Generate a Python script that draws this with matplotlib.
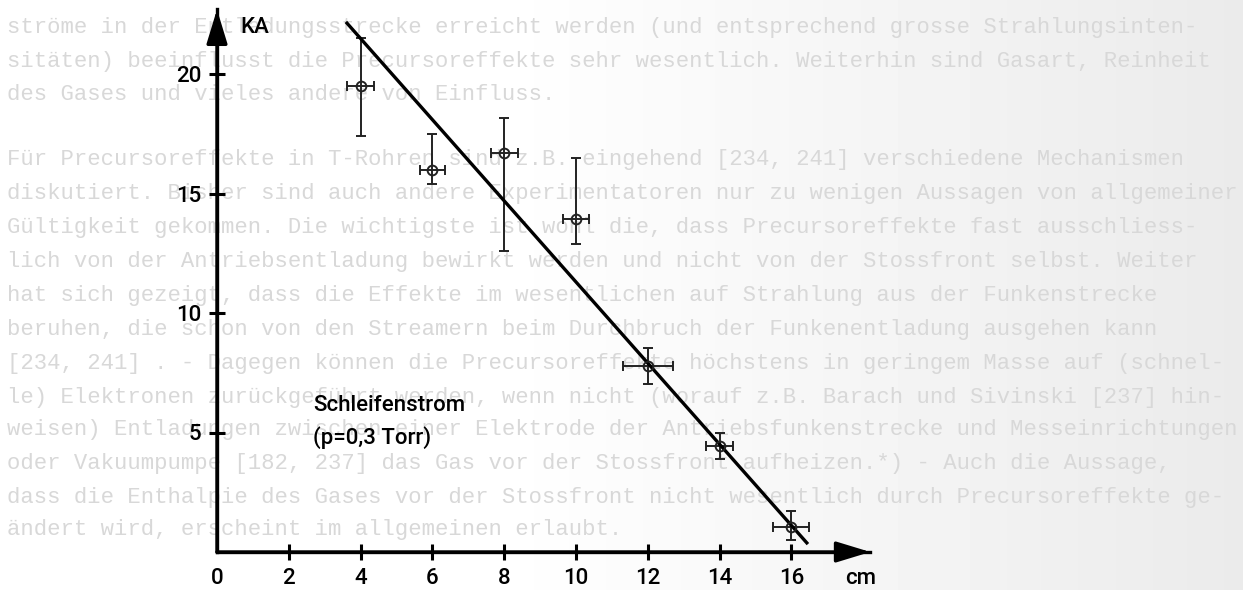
import numpy as np
import matplotlib
matplotlib.use("Agg")
import matplotlib.pyplot as plt

dist_cm = [4, 6, 8, 10, 12, 14, 16]
current_ka = [19.5, 16.0, 16.7, 13.95, 7.8, 4.45, 1.05]
current_hi = [21.5, 17.5, 18.15, 16.5, 8.55, 5.0, 1.7]
current_lo = [17.4, 15.4, 12.6, 12.9, 7.05, 3.9, 0.5]
dist_err = [0.38, 0.35, 0.38, 0.36, 0.7, 0.37, 0.5]

# straight line drawn through the points
fit_x = [3.59, 16.46]
fit_y = [22.18, 0.33]

xticks = [0, 2, 4, 6, 8, 10, 12, 14, 16]
yticks = [5, 10, 15, 20]

# faded page text behind the figure
page_lines = [
    "ströme in der Entladungsstrecke erreicht werden (und entsprechend grosse Strahlungsinten-",
    "sitäten) beeinflusst die Precursoreffekte sehr wesentlich. Weiterhin sind Gasart, Reinheit",
    "des Gases und vieles andere von Einfluss.",
    "",
    "Für Precursoreffekte in T-Rohren sind z.B. eingehend [234, 241] verschiedene Mechanismen",
    "diskutiert. Bisher sind auch andere Experimentatoren nur zu wenigen Aussagen von allgemeiner",
    "Gültigkeit gekommen. Die wichtigste ist wohl die, dass Precursoreffekte fast ausschliess-",
    "lich von der Antriebsentladung bewirkt werden und nicht von der Stossfront selbst. Weiter",
    "hat sich gezeigt, dass die Effekte im wesentlichen auf Strahlung aus der Funkenstrecke",
    "beruhen, die schon von den Streamern beim Durchbruch der Funkenentladung ausgehen kann",
    "[234, 241] . - Dagegen können die Precursoreffekte höchstens in geringem Masse auf (schnel-",
    "le) Elektronen zurückgeführt werden, wenn nicht (worauf z.B. Barach und Sivinski [237] hin-",
    "weisen) Entladungen zwischen einer Elektrode der Antriebsfunkenstrecke und Messeinrichtungen",
    "oder Vakuumpumpe [182, 237] das Gas vor der Stossfront aufheizen.*) - Auch die Aussage,",
    "dass die Enthalpie des Gases vor der Stossfront nicht wesentlich durch Precursoreffekte ge-",
    "ändert wird, erscheint im allgemeinen erlaubt.",
]
line_y = [27, 61, 95, None, 160, 194, 228, 261, 295, 329, 363, 397, 430, 464, 497, 530]

W, H = 1243, 590
fig = plt.figure(figsize=(W / 100, H / 100), dpi=100)

# paper background, a little greyer to the right
bg = fig.add_axes([0, 0, 1, 1], zorder=-1)
grad = np.clip((np.linspace(0, 1, 400) - 0.4) / 0.6, 0, 1)
bg.imshow(1 - 0.08 * grad[None, :], cmap="gray", vmin=0, vmax=1,
          aspect="auto", extent=[0, 1, 0, 1])
bg.set_xlim(0, 1)
bg.set_ylim(0, 1)
bg.axis("off")
for txt, yy in zip(page_lines, line_y):
    if yy is None:
        continue
    bg.text(0.006, 1 - yy / H, txt, family="Liberation Mono", fontsize=16,
            color="#d8d8d8", va="center", ha="left")

# plot area, set up so data units match the scan
x0, y0 = 217, 552
px_x, px_y = 35.9, 23.9
xmax, ymax = 18.2, 22.7
ax = fig.add_axes([x0 / W, (H - y0) / H, xmax * px_x / W, ymax * px_y / H])
ax.patch.set_alpha(0)
ax.set_xlim(0, xmax)
ax.set_ylim(0, ymax)

for s in ["top", "right"]:
    ax.spines[s].set_visible(False)
for s in ["left", "bottom"]:
    ax.spines[s].set_linewidth(2.4)

arrow = dict(arrowstyle="-|>,head_length=1.05,head_width=0.32", lw=2.4,
             color="black", shrinkA=0, shrinkB=0, mutation_scale=20)
ax.annotate("", xy=(xmax, 0), xytext=(0, 0), arrowprops=arrow,
            annotation_clip=False)
ax.annotate("", xy=(0, ymax), xytext=(0, 0), arrowprops=arrow,
            annotation_clip=False)

font = "Roboto"
fs = 16
ax.set_xticks(xticks)
ax.set_xticklabels([str(t) for t in xticks], family=font, fontsize=fs,
                   weight="medium")
ax.set_yticks(yticks)
ax.set_yticklabels([str(t) for t in yticks], family=font, fontsize=fs,
                   weight="medium")
ax.tick_params(direction="inout", length=11, width=2.2, pad=6)
ax.xaxis.get_major_ticks()[0].tick1line.set_visible(False)

lo = np.array(current_ka) - np.array(current_lo)
hi = np.array(current_hi) - np.array(current_ka)
ax.errorbar(dist_cm, current_ka, yerr=[lo, hi], xerr=dist_err, fmt="o",
            ms=7, mfc="none", mec="#222222", mew=1.4, ecolor="#222222",
            elinewidth=1.4, capsize=3.5, capthick=1.4)

ax.plot(fit_x, fit_y, color="black", lw=2.4, solid_capstyle="butt")

ax.text(0.64, 21.95, "KA", family=font, fontsize=fs, weight="medium",
        va="center", ha="left")
ax.annotate("cm", xy=(17.5, 0), xytext=(0, -19), textcoords="offset points",
            family=font, fontsize=fs, weight="medium", va="center", ha="left",
            annotation_clip=False)
ax.text(2.67, 5.45, "Schleifenstrom\n(p=0,3 Torr)", family=font, fontsize=fs,
        weight="medium", va="center", ha="left", linespacing=1.6)

fig.savefig("out.png", dpi=100)
